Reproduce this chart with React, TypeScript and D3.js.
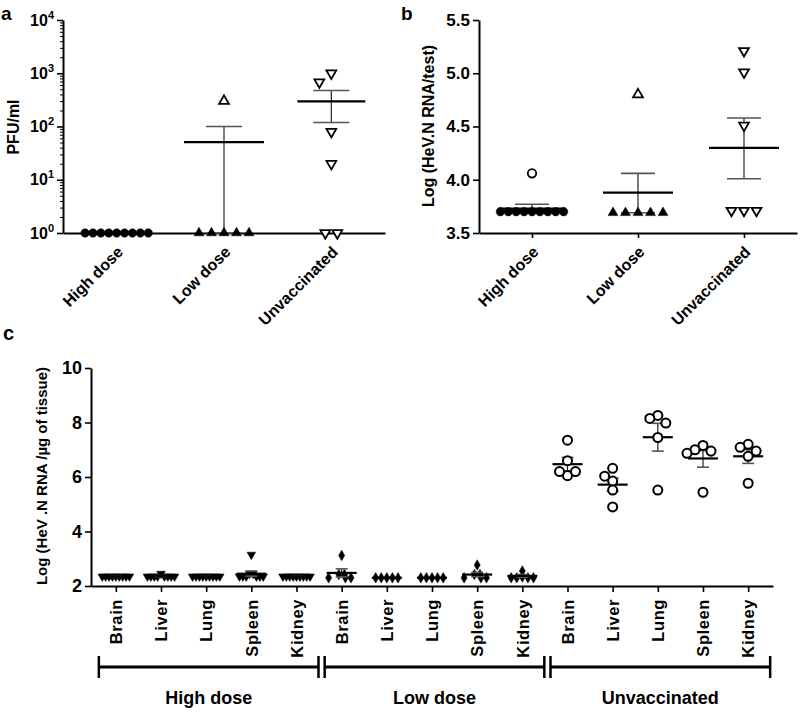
import React, { useRef, useEffect } from 'react';
import * as d3 from 'd3';

const groups = ['High dose', 'Low dose', 'Unvaccinated'];
const organs = ['Brain', 'Liver', 'Lung', 'Spleen', 'Kidney'];

// panel a - PFU/ml (log scale)
const aHighFilled = [1, 1, 1, 1, 1, 1, 1, 1, 1];
const aLowFilled = [1, 1, 1, 1, 1];
const aLowOpen = [300];
const aUnvacOpen = [1000, 680, 80, 20, 1, 1];
const aMean = [1, 51, 296];
const aUpper = [1, 100, 475];
const aLower = [1, 1, 119];

// panel b - Log (HeV.N RNA/test)
const bHighFilled = [3.7, 3.7, 3.7, 3.7, 3.7, 3.7, 3.7, 3.7, 3.7];
const bHighOpen = [4.06];
const bLowFilled = [3.69, 3.69, 3.69, 3.69, 3.69];
const bLowOpen = [4.8];
const bUnvacOpen = [5.21, 5.01, 4.51, 3.71, 3.71, 3.71];
const bMean = [3.73, 3.88, 4.3];
const bUpper = [3.77, 4.06, 4.58];
const bLower = [3.69, 3.69, 4.01];

// panel c - Log (HeV .N RNA /µg of tissue), one row per organ
const cHigh = [
  [2.35, 2.35, 2.35, 2.35, 2.35, 2.35, 2.35, 2.35, 2.35],
  [2.45, 2.35, 2.35, 2.35, 2.35, 2.35, 2.35, 2.35, 2.35],
  [2.35, 2.35, 2.35, 2.35, 2.35, 2.35, 2.35, 2.35, 2.35],
  [3.15, 2.45, 2.45, 2.35, 2.35, 2.35, 2.35, 2.35, 2.35],
  [2.35, 2.35, 2.35, 2.35, 2.35, 2.35, 2.35, 2.35, 2.35],
];
const cLow = [
  [3.12, 2.42, 2.42, 2.3, 2.3, 2.3],
  [2.3, 2.3, 2.3, 2.3, 2.3],
  [2.3, 2.3, 2.3, 2.3, 2.3],
  [2.77, 2.42, 2.42, 2.3, 2.3, 2.3],
  [2.55, 2.33, 2.3, 2.3, 2.3, 2.3],
];
const cUnvac = [
  [7.35, 6.6, 6.05, 6.2, 6.2],
  [6.32, 6.03, 5.85, 5.52, 4.9],
  [8.26, 8.15, 7.98, 7.45, 5.52],
  [7.16, 7.0, 6.95, 6.87, 5.44],
  [7.2, 7.09, 6.95, 6.76, 5.77],
];
const cMean = [2.35, 2.36, 2.35, 2.45, 2.35, 2.48, 2.3, 2.3, 2.42, 2.37, 6.47, 5.72, 7.46, 6.68, 6.76];
const cUpper = [2.36, 2.38, 2.36, 2.55, 2.36, 2.63, 2.3, 2.3, 2.5, 2.42, 6.72, 5.96, 7.97, 6.97, 7.0];
const cLower = [2.34, 2.34, 2.34, 2.36, 2.34, 2.33, 2.3, 2.3, 2.34, 2.32, 6.22, 5.48, 6.95, 6.36, 6.5];

const FONT = '"Liberation Sans", Arial, sans-serif';

// simple beeswarm: place points left/right of centre until they stop colliding
function swarm(points, y, step, minDist) {
  const placed = [];
  points.forEach(p => {
    const py = y(p.v);
    let k = 0;
    for (;;) {
      const off = k === 0 ? 0 : (k % 2 === 1 ? -1 : 1) * Math.ceil(k / 2) * step;
      if (placed.every(q => Math.hypot(q.dx - off, q.y - py) >= minDist - 0.01)) {
        placed.push({ ...p, y: py, dx: off });
        break;
      }
      k++;
    }
  });
  // recentre rows of equal values
  d3.group(placed, p => p.v).forEach(row => {
    if (row.length > 1) {
      const m = d3.mean(row, p => p.dx);
      row.forEach(p => { p.dx -= m; });
    }
  });
  return placed;
}

const symbolFor = (shape, size) => {
  const type = shape === 'circle' ? d3.symbolCircle : shape === 'diamond' ? d3.symbolDiamond : d3.symbolTriangle;
  return d3.symbol().type(type).size(size)();
};

function drawPoints(g, placed, cx, shape, size, filled, down, sw) {
  g.selectAll(null)
    .data(placed)
    .enter().append('path')
    .attr('d', symbolFor(shape, size))
    .attr('transform', d => `translate(${cx + d.dx},${d.y})${down ? ' rotate(180)' : ''}`)
    .attr('fill', d => (d.open ? '#fff' : (filled ? '#000' : '#fff')))
    .attr('stroke', '#000')
    .attr('stroke-width', d => (d.open || !filled ? sw : 0.5));
}

function drawStats(g, cx, mean, upper, lower, y, meanW, capW) {
  g.append('line').attr('x1', cx).attr('x2', cx).attr('y1', y(lower)).attr('y2', y(upper))
    .attr('stroke', '#222').attr('stroke-width', 1.2);
  [upper, lower].forEach(v => {
    g.append('line').attr('x1', cx - capW / 2).attr('x2', cx + capW / 2).attr('y1', y(v)).attr('y2', y(v))
      .attr('stroke', '#555').attr('stroke-width', 1.6);
  });
  g.append('line').attr('x1', cx - meanW / 2).attr('x2', cx + meanW / 2).attr('y1', y(mean)).attr('y2', y(mean))
    .attr('stroke', '#000').attr('stroke-width', 2.2);
}

function styleAxis(g) {
  g.select('.domain').attr('stroke', '#000').attr('stroke-width', 2);
  g.selectAll('.tick line').attr('stroke', '#000').attr('stroke-width', 1.6);
  g.selectAll('.tick text').attr('fill', '#000').attr('font-family', FONT).attr('font-weight', 'bold');
}

const App = () => {
  const svgRef = useRef(null);

  useEffect(() => {
    const svg = d3.select(svgRef.current);
    svg.selectAll('*').remove();

    // ---------- panel a ----------
    const ya = d3.scaleLog().domain([1, 1e4]).range([233, 20]);
    const xa = d3.scalePoint().domain(groups).range([63, 385]).padding(0.5);
    const ga = svg.append('g');

    const minor = [];
    for (let e = 0; e < 4; e++) for (let m = 2; m < 10; m++) minor.push(m * Math.pow(10, e));
    ga.append('g').attr('transform', 'translate(63,0)')
      .call(d3.axisLeft(ya).tickValues(minor).tickSize(3).tickFormat(() => ''))
      .call(g => { g.select('.domain').remove(); g.selectAll('.tick line').attr('stroke', '#000').attr('stroke-width', 1); });
    const yAxA = ga.append('g').attr('transform', 'translate(63,0)')
      .call(d3.axisLeft(ya).tickValues([1, 10, 100, 1000, 10000]).tickSize(6).tickSizeOuter(0).tickFormat(() => ''));
    styleAxis(yAxA);
    yAxA.selectAll('.tick text').attr('font-size', 16).attr('x', -9).each(function (d) {
      const t = d3.select(this);
      t.append('tspan').text('10');
      t.append('tspan').attr('dy', -7).attr('font-size', 11).text(Math.round(Math.log10(d)));
    });
    const xAxA = ga.append('g').attr('transform', 'translate(0,233)')
      .call(d3.axisBottom(xa).tickSize(0).tickSizeOuter(0));
    styleAxis(xAxA);
    xAxA.selectAll('.tick text').attr('font-size', 16).attr('text-anchor', 'end')
      .attr('transform', 'translate(3,16) rotate(-45)').attr('dy', '0.35em').attr('y', 0);

    const aSets = [
      { pts: aHighFilled.map(v => ({ v })), shape: 'circle', size: 56, filled: true, down: false, step: 7.9 },
      { pts: aLowFilled.map(v => ({ v })).concat(aLowOpen.map(v => ({ v, open: true }))), shape: 'triangle', size: 42, filled: true, down: false, step: 12.5 },
      { pts: aUnvacOpen.map(v => ({ v, open: true })), shape: 'triangle', size: 42, filled: false, down: true, step: 12 },
    ];
    aSets.forEach((s, i) => {
      const cx = xa(groups[i]);
      drawStats(ga, cx, aMean[i], aUpper[i], aLower[i], ya, i === 1 ? 80 : 68, 36);
      drawPoints(ga, swarm(s.pts, ya, s.step, s.step), cx, s.shape, s.size, s.filled, s.down, 1.8);
    });

    ga.append('text').attr('x', 13).attr('y', 127).attr('transform', 'rotate(-90,13,127)')
      .attr('dy', '0.35em').attr('text-anchor', 'middle').attr('font-family', FONT).attr('font-weight', 'bold')
      .attr('font-size', 16).text('PFU/ml');
    ga.append('text').attr('x', 1).attr('y', 20).attr('font-family', FONT).attr('font-weight', 'bold')
      .attr('font-size', 19).text('a');

    // ---------- panel b ----------
    const yb = d3.scaleLinear().domain([3.5, 5.5]).range([233, 20]);
    const xb = d3.scalePoint().domain(groups).range([479, 797]).padding(0.5);
    const gb = svg.append('g');
    const yAxB = gb.append('g').attr('transform', 'translate(479,0)')
      .call(d3.axisLeft(yb).tickValues([3.5, 4, 4.5, 5, 5.5]).tickFormat(d3.format('.1f')).tickSize(6).tickSizeOuter(0));
    styleAxis(yAxB);
    yAxB.selectAll('.tick text').attr('font-size', 17).attr('x', -9);
    const xAxB = gb.append('g').attr('transform', 'translate(0,233)')
      .call(d3.axisBottom(xb).tickSize(5).tickSizeOuter(0));
    styleAxis(xAxB);
    xAxB.selectAll('.tick text').attr('font-size', 16).attr('text-anchor', 'end')
      .attr('transform', 'translate(3,16) rotate(-45)').attr('dy', '0.35em').attr('y', 0);

    const bSets = [
      { pts: bHighFilled.map(v => ({ v })).concat(bHighOpen.map(v => ({ v, open: true }))), shape: 'circle', size: 56, filled: true, down: false, step: 7.9 },
      { pts: bLowFilled.map(v => ({ v })).concat(bLowOpen.map(v => ({ v, open: true }))), shape: 'triangle', size: 42, filled: true, down: false, step: 12.5 },
      { pts: bUnvacOpen.map(v => ({ v, open: true })), shape: 'triangle', size: 42, filled: false, down: true, step: 12.5 },
    ];
    bSets.forEach((s, i) => {
      const cx = xb(groups[i]);
      drawStats(gb, cx, bMean[i], bUpper[i], bLower[i], yb, i === 0 ? 66 : 70, 34);
      drawPoints(gb, swarm(s.pts, yb, s.step, s.step), cx, s.shape, s.size, s.filled, s.down, 1.8);
    });

    gb.append('text').attr('x', 428).attr('y', 126).attr('transform', 'rotate(-90,428,126)')
      .attr('dy', '0.35em').attr('text-anchor', 'middle').attr('font-family', FONT).attr('font-weight', 'bold')
      .attr('font-size', 16).text('Log (HeV.N RNA/test)');
    gb.append('text').attr('x', 401).attr('y', 20).attr('font-family', FONT).attr('font-weight', 'bold')
      .attr('font-size', 19).text('b');

    // ---------- panel c ----------
    const cats = [];
    groups.forEach(gr => organs.forEach(o => cats.push(gr + '|' + o)));
    const yc = d3.scaleLinear().domain([2, 10]).range([586, 368]);
    const xc = d3.scalePoint().domain(cats).range([91, 773]).padding(0.55);
    const gc = svg.append('g');
    const yAxC = gc.append('g').attr('transform', 'translate(91,0)')
      .call(d3.axisLeft(yc).tickValues([2, 4, 6, 8, 10]).tickSize(6).tickSizeOuter(0));
    styleAxis(yAxC);
    yAxC.selectAll('.tick text').attr('font-size', 18).attr('x', -9);
    const xAxC = gc.append('g').attr('transform', 'translate(0,586)')
      .call(d3.axisBottom(xc).tickSize(6).tickSizeOuter(0).tickFormat(d => d.split('|')[1]));
    styleAxis(xAxC);
    xAxC.selectAll('.tick text').attr('font-size', 16.5).attr('letter-spacing', 0.6).attr('text-anchor', 'end')
      .attr('transform', 'rotate(-90)').attr('x', -13).attr('y', 0).attr('dy', '0.35em');

    const cSets = [
      { rows: cHigh, shape: 'triangle', size: 32, filled: true, down: true, step: 3.4, dist: 3.4 },
      { rows: cLow, shape: 'diamond', size: 32, filled: true, down: false, step: 5.6, dist: 5.6 },
      { rows: cUnvac, shape: 'circle', size: 64, filled: false, down: false, step: 8, dist: 8 },
    ];
    cSets.forEach((s, gi) => {
      s.rows.forEach((row, oi) => {
        const idx = gi * organs.length + oi;
        const cx = xc(cats[idx]);
        const pts = row.map(v => ({ v, open: !s.filled }));
        const placed = swarm(pts, yc, s.step, s.dist);
        if (s.filled) {
          drawPoints(gc, placed, cx, s.shape, s.size, s.filled, s.down, 2);
          drawStats(gc, cx, cMean[idx], cUpper[idx], cLower[idx], yc, 30, 12);
        } else {
          drawStats(gc, cx, cMean[idx], cUpper[idx], cLower[idx], yc, 30, 12);
          drawPoints(gc, placed, cx, s.shape, s.size, s.filled, s.down, 2);
        }
      });
    });

    // group brackets under the organ labels
    const brY = 667;
    groups.forEach(gr => {
      const x0 = xc(gr + '|' + organs[0]) - 17;
      const x1 = xc(gr + '|' + organs[organs.length - 1]) + 22;
      gc.append('line').attr('x1', x0).attr('x2', x1).attr('y1', brY).attr('y2', brY)
        .attr('stroke', '#000').attr('stroke-width', 3);
      [x0, x1].forEach(x => {
        gc.append('line').attr('x1', x).attr('x2', x).attr('y1', brY - 11).attr('y2', brY + 11)
          .attr('stroke', '#000').attr('stroke-width', 2.5);
      });
      gc.append('text').attr('x', (x0 + x1) / 2).attr('y', 704).attr('text-anchor', 'middle')
        .attr('font-family', '"Liberation Sans Narrow", ' + FONT).attr('font-weight', 'bold')
        .attr('font-size', 18).text(gr);
    });

    gc.append('text').attr('x', 42).attr('y', 476).attr('transform', 'rotate(-90,42,476)')
      .attr('dy', '0.35em').attr('text-anchor', 'middle').attr('font-family', FONT).attr('font-weight', 'bold')
      .attr('font-size', 15).text('Log (HeV .N RNA /µg of tissue)');
    gc.append('text').attr('x', 3).attr('y', 340).attr('font-family', FONT).attr('font-weight', 'bold')
      .attr('font-size', 20).text('c');
  }, []);

  return (
    <svg ref={svgRef} width={800} height={713}
      style={{ position: 'absolute', left: 0, top: 0, background: '#fff' }} />
  );
};

export default App;
